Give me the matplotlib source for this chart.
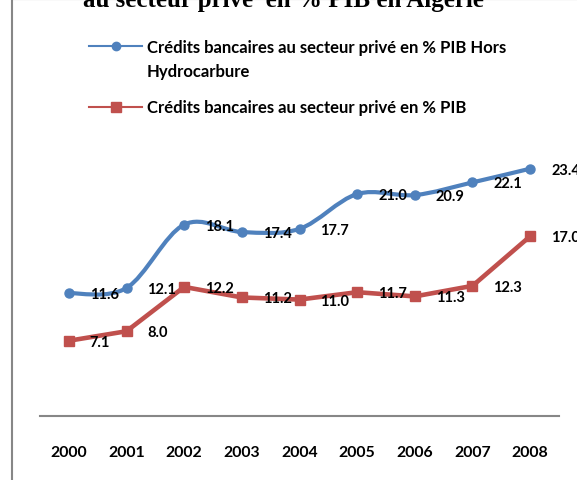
import matplotlib
matplotlib.use("Agg")
import matplotlib.pyplot as plt
from matplotlib.lines import Line2D
from matplotlib.patches import Rectangle, PathPatch
from matplotlib.path import Path

# Data
years = ["2000", "2001", "2002", "2003", "2004", "2005", "2006", "2007", "2008"]
credit_hors_hydro = [11.6, 12.1, 18.1, 17.4, 17.7, 21.0, 20.9, 22.1, 23.4]
credit_pib = [7.1, 8.0, 12.2, 11.2, 11.0, 11.7, 11.3, 12.3, 17.0]

label_hors_hydro = ["Crédits bancaires au secteur privé en % PIB Hors", "Hydrocarbure"]
label_pib = "Crédits bancaires au secteur privé en % PIB"
title = "au secteur privé  en % PIB en Algérie"

BLUE = "#4F81BD"
RED = "#C0504D"
GRAY = "#878787"
FONT = "Lato"

W, H = 577, 481


def fx(px):
    return px / W


def fy(py):
    return 1 - py / H


def smooth_path(xs, ys):
    # Bezier curve through the points (like Excel's smoothed line)
    pts = list(zip(xs, ys))
    verts = [pts[0]]
    codes = [Path.MOVETO]
    for i in range(len(pts) - 1):
        p0 = pts[i - 1] if i > 0 else pts[i]
        p1 = pts[i]
        p2 = pts[i + 1]
        p3 = pts[i + 2] if i + 2 < len(pts) else pts[i + 1]
        c1 = (p1[0] + (p2[0] - p0[0]) / 6, p1[1] + (p2[1] - p0[1]) / 6)
        c2 = (p2[0] - (p3[0] - p1[0]) / 6, p2[1] - (p3[1] - p1[1]) / 6)
        verts += [c1, c2, p2]
        codes += [Path.CURVE4] * 3
    return Path(verts, codes)


fig = plt.figure(figsize=(W / 100, H / 100), dpi=100)

# outer frame of the chart area (cut by the picture on right and bottom)
fig.add_artist(Rectangle((fx(12), fy(700)), fx(800), 700 / H, transform=fig.transFigure,
                         fill=False, edgecolor=GRAY, linewidth=1.5))

# title, mostly cut off at the top (as in the source picture)
fig.text(fx(283), fy(6.7), title, ha="center", va="baseline",
         fontsize=18, fontweight="bold", family="Liberation Serif")

ax = fig.add_axes([fx(40), fy(416.7), fx(559) - fx(40), fy(100) - fy(416.7)])
ax.set_xlim(-0.5, len(years) - 0.5)
ax.set_ylim(0, 30)

x = list(range(len(years)))

ax.add_patch(PathPatch(smooth_path(x, credit_hors_hydro), fill=False, edgecolor=BLUE,
                       linewidth=3, capstyle="round", joinstyle="round", clip_on=False))
ax.plot(x, credit_hors_hydro, linestyle="none", marker="o", markersize=6.5,
        color=BLUE, clip_on=False)
ax.plot(x, credit_pib, color=RED, linewidth=3.3, marker="s", markersize=6.5,
        solid_joinstyle="round", clip_on=False)

for xi, v in zip(x, credit_hors_hydro):
    ax.annotate(f"{v:.1f}", (xi, v), xytext=(21, -1), textcoords="offset pixels",
                ha="left", va="center", fontsize=10.5, fontweight="bold", family=FONT,
                annotation_clip=False)
for xi, v in zip(x, credit_pib):
    ax.annotate(f"{v:.1f}", (xi, v), xytext=(21, -1), textcoords="offset pixels",
                ha="left", va="center", fontsize=10.5, fontweight="bold", family=FONT,
                annotation_clip=False)

ax.set_xticks(x)
ax.set_xticklabels(years, fontsize=11.4, fontweight="bold", family=FONT)
ax.tick_params(axis="x", length=0, pad=21)
ax.set_yticks([])
for side in ["left", "right", "top"]:
    ax.spines[side].set_visible(False)
ax.spines["bottom"].set_color(GRAY)
ax.spines["bottom"].set_linewidth(1.5)
ax.patch.set_visible(False)

# legend drawn by hand so the marker sits on the first text line
fig.add_artist(Line2D([fx(89), fx(115.5), fx(142)], [fy(47)] * 3, transform=fig.transFigure,
                      color=BLUE, linewidth=1.5, marker="o", markersize=6, markevery=[1]))
fig.text(fx(147), fy(52.5), label_hors_hydro[0], fontsize=12, fontweight="bold", family=FONT,
         va="baseline")
fig.text(fx(147), fy(76.5), label_hors_hydro[1], fontsize=12, fontweight="bold", family=FONT,
         va="baseline")
fig.add_artist(Line2D([fx(89), fx(115.5), fx(142)], [fy(108)] * 3, transform=fig.transFigure,
                      color=RED, linewidth=1.5, marker="s", markersize=6.5, markevery=[1]))
fig.text(fx(147), fy(113.5), label_pib, fontsize=12, fontweight="bold", family=FONT,
         va="baseline")

fig.savefig("out.png", dpi=100)
